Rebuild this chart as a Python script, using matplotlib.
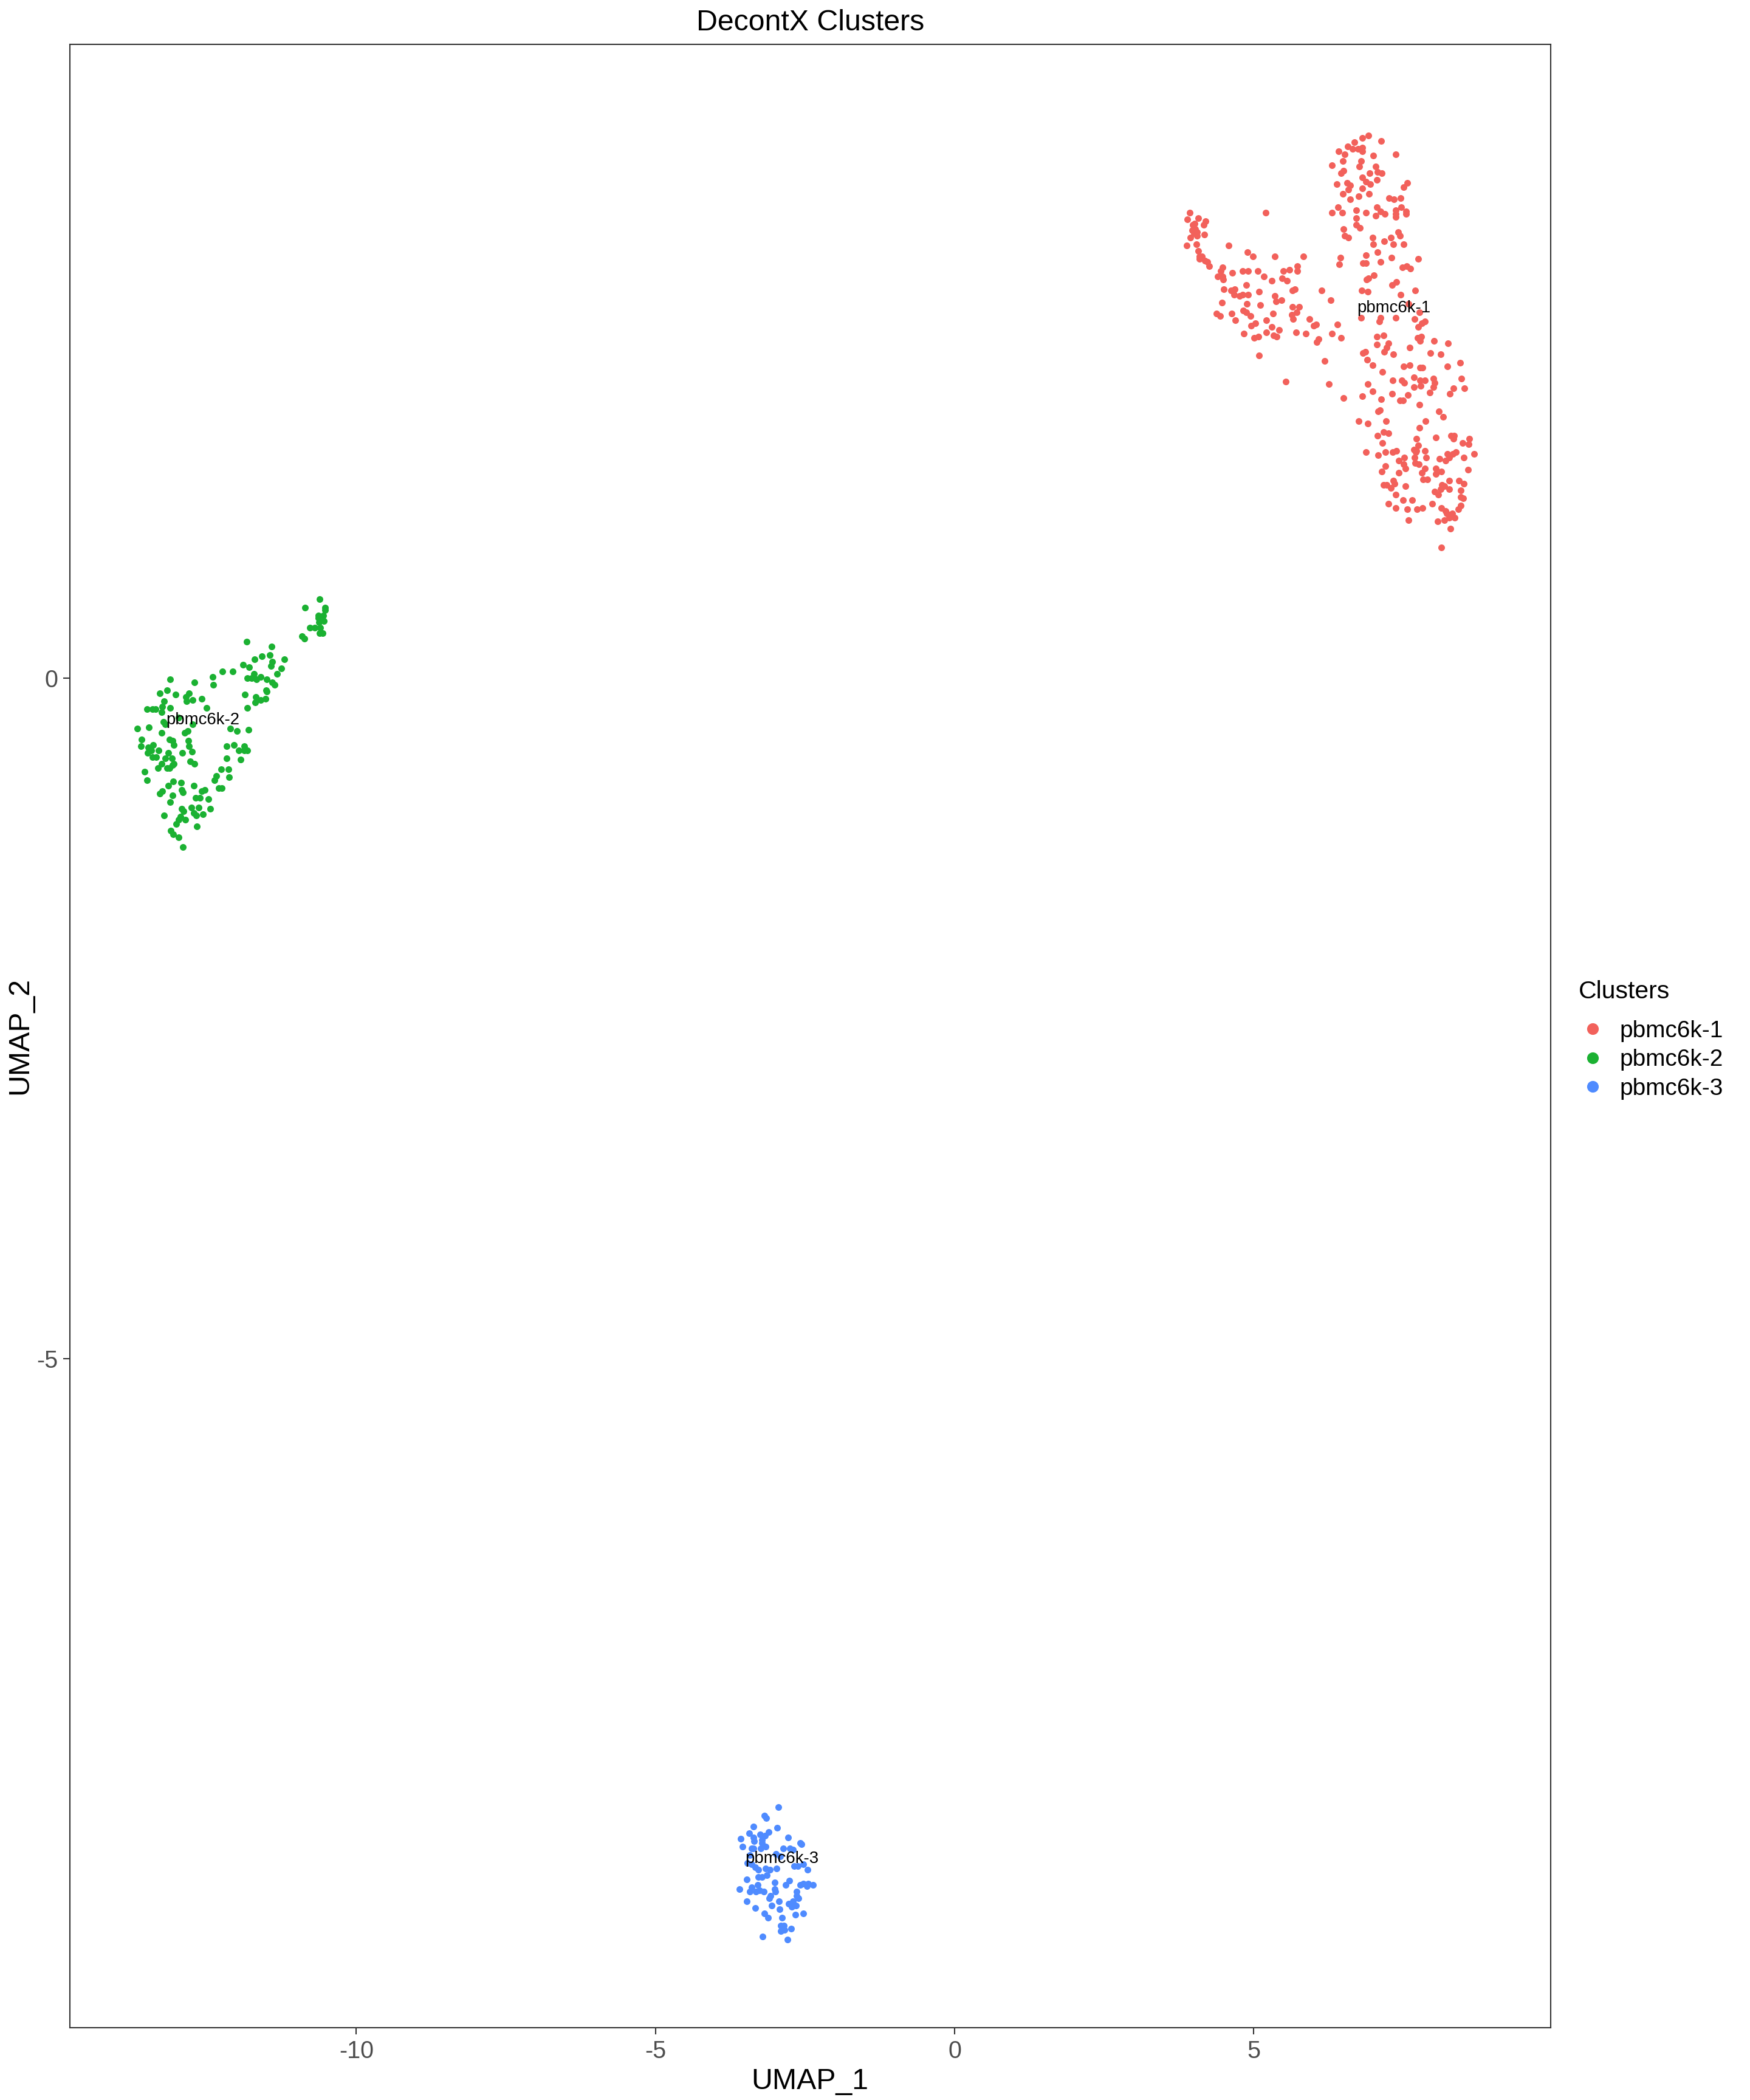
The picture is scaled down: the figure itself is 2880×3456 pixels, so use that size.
import matplotlib.pyplot as plt
from matplotlib.lines import Line2D

plt.rcParams['font.family'] = ['Liberation Sans', 'DejaVu Sans']

# cluster names and colours
clusters = ['pbmc6k-1', 'pbmc6k-2', 'pbmc6k-3']
colors = ['#F2615B', '#1BB132', '#4F8BFF']

# UMAP coordinates
red_x = [6.92, 6.82, 7.13, 6.68, 6.57, 6.65, 6.74, 6.82, 6.82, 6.42, 6.52, 7.37, 7.00, 6.49, 6.79,
         6.31, 6.76, 7.04, 6.50, 6.46, 7.07, 7.14, 6.94, 6.81, 6.88, 6.95, 7.06, 6.39, 6.56, 6.61,
         6.58, 6.81, 7.57, 7.51, 6.49, 6.75, 6.93, 6.61, 7.26, 7.34, 7.45, 6.41, 6.31, 6.48, 6.71,
         6.88, 7.06, 7.12, 7.19, 7.04, 7.37, 7.37, 7.37, 7.47, 7.55, 7.55, 6.71, 6.50, 6.71, 6.77,
         6.52, 6.58, 6.99, 7.29, 7.41, 7.44, 7.00, 7.18, 7.33, 7.51, 6.88, 7.07, 6.45, 6.43, 6.83,
         6.88, 7.12, 7.30, 7.75, 7.49, 7.56, 7.62, 7.01, 6.89, 6.92, 7.31, 7.38, 7.70, 6.80, 6.91,
         7.45, 6.29, 6.13, 6.79, 7.12, 7.10, 7.37, 7.69, 7.77, 7.86, 7.81, 7.75, 7.59, 6.40, 6.31,
         6.46, 7.06, 7.17, 7.74, 7.80, 8.01,
         3.93, 3.89, 4.07, 4.19, 3.98, 4.01, 4.16, 3.97, 4.02, 4.05, 4.00, 4.05, 4.17, 3.94, 3.88,
         4.04, 4.58, 5.20, 4.07, 4.09, 4.13, 4.09, 4.18, 4.23, 4.26, 4.48, 4.45, 4.40, 4.48, 4.49,
         4.64, 4.81, 4.91, 5.07, 4.90, 4.99, 5.35, 5.83, 5.73, 5.73, 5.60, 5.49, 5.17, 5.30, 5.47,
         5.56, 4.88, 4.50, 4.62, 4.68, 4.67, 4.76, 4.81, 4.91, 5.09, 5.35, 5.37, 5.46, 5.65, 5.69,
         4.47, 4.89, 5.11, 5.65, 5.76, 4.38, 4.44, 4.63, 4.82, 4.88, 4.95, 4.69, 5.21, 5.32, 5.64,
         5.72, 5.66, 5.93, 4.96, 5.03, 5.30, 5.42, 4.83, 5.21, 5.33, 5.38, 5.01, 5.08, 5.71, 5.87,
         6.00, 6.04, 6.08,
         6.05, 7.78, 8.25, 7.25, 7.22, 7.06, 7.61, 7.18, 6.83, 6.87, 7.33, 7.95, 8.13, 5.09, 6.19,
         6.90, 6.99, 7.51, 7.61, 7.78, 7.82, 8.24, 8.45, 7.15, 7.68, 7.32, 7.48, 7.52, 7.78, 7.86,
         8.00, 8.02, 8.00, 8.47, 5.54, 6.26, 6.91, 6.99, 7.68, 7.79, 7.94, 8.34, 8.52, 8.28, 6.50,
         6.81, 7.31, 7.58, 7.13, 7.44, 7.50, 7.77, 7.08, 7.11, 8.09, 8.17, 6.75, 6.91, 7.21, 7.87,
         7.77, 7.17, 7.25, 7.07, 8.04, 8.30, 8.35, 8.34, 8.60, 7.15, 7.72, 7.75, 8.49, 8.59, 6.88,
         7.08, 7.20, 7.32, 7.38, 7.68, 7.72, 7.71, 7.86, 8.24, 8.33, 8.38, 8.27, 8.68, 8.51, 7.42,
         7.52, 7.69, 7.88, 8.10, 8.21, 7.51, 7.54, 7.70, 7.76, 7.20, 7.14, 7.42, 7.86, 7.81, 8.04,
         8.04, 8.14, 8.58, 7.83, 7.90, 7.33, 7.35, 7.17, 7.22, 7.29, 7.54, 8.27, 8.43, 8.51, 8.15,
         8.19, 8.13, 8.02, 8.08, 8.27, 8.46, 7.37, 7.50, 7.65, 8.46, 8.50, 7.25, 7.37, 7.57, 7.73,
         7.82, 7.98, 8.14, 8.21, 8.23, 8.32, 8.46, 8.42, 8.27, 8.36, 8.19, 8.07, 7.59, 8.29, 8.14]
red_y = [3.99, 3.97, 3.95, 3.94, 3.91, 3.89, 3.89, 3.90, 3.87, 3.87, 3.85, 3.85, 3.84, 3.80, 3.80,
         3.77, 3.76, 3.76, 3.73, 3.71, 3.72, 3.71, 3.71, 3.68, 3.65, 3.63, 3.66, 3.63, 3.64, 3.62,
         3.59, 3.60, 3.64, 3.61, 3.56, 3.54, 3.56, 3.52, 3.53, 3.52, 3.53, 3.46, 3.42, 3.42, 3.44,
         3.42, 3.46, 3.43, 3.41, 3.40, 3.44, 3.41, 3.39, 3.46, 3.43, 3.41, 3.38, 3.30, 3.33, 3.31,
         3.25, 3.24, 3.24, 3.24, 3.28, 3.25, 3.19, 3.21, 3.19, 3.19, 3.11, 3.13, 3.09, 3.04, 3.05,
         3.05, 3.06, 3.09, 3.08, 3.02, 3.03, 3.01, 2.96, 2.93, 2.94, 2.89, 2.91, 2.85, 2.85, 2.84,
         2.82, 2.78, 2.85, 2.65, 2.65, 2.62, 2.65, 2.64, 2.69, 2.62, 2.61, 2.58, 2.75, 2.60, 2.53,
         2.50, 2.51, 2.52, 2.50, 2.51, 2.48,
         3.42, 3.37, 3.38, 3.36, 3.33, 3.34, 3.33, 3.29, 3.30, 3.28, 3.27, 3.25, 3.26, 3.24, 3.18,
         3.19, 3.18, 3.42, 3.14, 3.10, 3.10, 3.08, 3.07, 3.06, 3.03, 3.02, 2.99, 2.95, 2.95, 2.93,
         2.98, 2.99, 2.99, 2.99, 3.13, 3.10, 3.10, 3.10, 3.03, 2.99, 3.00, 2.99, 2.95, 2.92, 2.94,
         2.92, 2.89, 2.86, 2.85, 2.86, 2.82, 2.81, 2.82, 2.82, 2.84, 2.81, 2.77, 2.78, 2.85, 2.86,
         2.76, 2.75, 2.74, 2.73, 2.73, 2.68, 2.66, 2.68, 2.70, 2.69, 2.66, 2.63, 2.63, 2.68, 2.67,
         2.69, 2.64, 2.64, 2.59, 2.61, 2.58, 2.56, 2.53, 2.54, 2.52, 2.51, 2.50, 2.51, 2.54, 2.53,
         2.59, 2.60, 2.49,
         2.47, 2.48, 2.46, 2.46, 2.43, 2.45, 2.43, 2.40, 2.39, 2.40, 2.38, 2.39, 2.38, 2.37, 2.33,
         2.34, 2.30, 2.29, 2.30, 2.28, 2.28, 2.29, 2.32, 2.25, 2.21, 2.19, 2.19, 2.17, 2.19, 2.19,
         2.20, 2.17, 2.14, 2.20, 2.18, 2.16, 2.16, 2.11, 2.14, 2.15, 2.10, 2.13, 2.13, 2.09, 2.06,
         2.07, 2.09, 2.08, 2.05, 2.04, 2.04, 2.01, 1.96, 1.97, 1.96, 1.92, 1.89, 1.87, 1.89, 1.89,
         1.84, 1.81, 1.80, 1.78, 1.77, 1.78, 1.78, 1.76, 1.76, 1.73, 1.76, 1.71, 1.73, 1.72, 1.66,
         1.64, 1.66, 1.66, 1.67, 1.68, 1.67, 1.66, 1.67, 1.65, 1.65, 1.66, 1.62, 1.65, 1.62, 1.60,
         1.62, 1.62, 1.62, 1.61, 1.60, 1.57, 1.54, 1.58, 1.57, 1.56, 1.52, 1.51, 1.54, 1.51, 1.54,
         1.50, 1.52, 1.53, 1.46, 1.46, 1.45, 1.43, 1.42, 1.42, 1.40, 1.41, 1.45, 1.45, 1.43, 1.42,
         1.41, 1.39, 1.37, 1.35, 1.39, 1.38, 1.35, 1.31, 1.31, 1.33, 1.32, 1.28, 1.25, 1.24, 1.24,
         1.25, 1.28, 1.25, 1.23, 1.21, 1.21, 1.27, 1.24, 1.18, 1.18, 1.16, 1.15, 1.16, 1.10, 0.96]

green_x = [-10.61, -10.86, -10.52, -10.52, -10.63, -10.55, -10.63, -10.54, -10.62, -10.77, -10.69,
           -10.60, -10.61, -10.56, -10.91, -10.87, -11.83, -11.41, -11.45, -11.58, -11.70, -11.20,
           -11.40, -11.42, -11.89, -11.79, -11.25, -11.32, -12.06, -12.24, -12.40, -12.39, -11.71,
           -11.82, -11.75, -11.67, -11.60, -11.50, -11.40, -11.36, -11.51, -11.50, -11.86, -11.68,
           -11.69, -11.60, -11.52, -11.82, -13.11, -12.70, -13.28, -13.16, -13.02, -12.80, -12.85,
           -12.84, -12.73, -12.58, -12.50, -13.21, -13.24, -13.50, -13.40, -13.35, -13.25, -13.11,
           -13.47, -13.66, -13.25, -13.22, -12.10, -11.99, -11.80, -12.87, -12.82, -13.12, -13.07,
           -13.05, -12.81, -12.80, -13.59, -13.60, -13.39, -13.48, -13.49, -13.43, -13.30, -13.14,
           -13.19, -13.08, -12.91, -12.74, -13.40, -13.34, -13.05, -13.07, -13.12, -13.16, -13.25,
           -13.31, -12.78, -12.70, -12.17, -12.04, -11.96, -11.87, -11.87, -11.82, -12.17, -11.93,
           -13.54, -13.50, -12.26, -12.14, -12.34, -12.37, -12.13, -13.06, -13.14, -12.93, -12.71,
           -12.92, -12.90, -13.28, -13.24, -13.07, -13.11, -12.68, -12.61, -12.47, -12.58, -12.53,
           -12.30, -12.25, -12.75, -12.63, -12.44, -12.92, -12.89, -12.71, -12.67, -12.56, -13.21,
           -12.94, -12.97, -12.86, -13.01, -12.66, -13.10, -13.06, -12.97, -12.90, -13.19, -12.97,
           -12.73]
green_y = [0.58, 0.52, 0.52, 0.50, 0.46, 0.46, 0.44, 0.42, 0.41, 0.37, 0.37, 0.37, 0.33, 0.33,
           0.31, 0.29, 0.27, 0.23, 0.17, 0.16, 0.14, 0.14, 0.12, 0.09, 0.10, 0.08, 0.07, 0.03, 0.05,
           0.05, 0.01, -0.05, 0.03, 0.00, 0.00, -0.01, 0.01, -0.01, -0.03, -0.05, -0.09, -0.10,
           -0.12, -0.14, -0.18, -0.16, -0.15, -0.22, -0.01, -0.03, -0.11, -0.09, -0.12, -0.11,
           -0.14, -0.17, -0.16, -0.15, -0.22, -0.17, -0.21, -0.23, -0.23, -0.23, -0.25, -0.22,
           -0.36, -0.37, -0.40, -0.32, -0.37, -0.39, -0.38, -0.40, -0.39, -0.45, -0.46, -0.49,
           -0.46, -0.50, -0.45, -0.50, -0.49, -0.51, -0.55, -0.53, -0.53, -0.55, -0.59, -0.59,
           -0.55, -0.54, -0.58, -0.58, -0.63, -0.64, -0.66, -0.66, -0.63, -0.66, -0.61, -0.63,
           -0.50, -0.49, -0.53, -0.50, -0.53, -0.53, -0.59, -0.60, -0.69, -0.75, -0.67, -0.67,
           -0.72, -0.75, -0.73, -0.76, -0.79, -0.77, -0.79, -0.82, -0.84, -0.85, -0.83, -0.86,
           -0.91, -0.88, -0.88, -0.89, -0.83, -0.82, -0.81, -0.81, -0.95, -0.95, -0.96, -0.96,
           -0.98, -0.99, -1.01, -1.00, -1.01, -1.02, -1.04, -1.04, -1.07, -1.09, -1.12, -1.15,
           -1.17, -1.24, -0.34, -0.29, -0.34]

blue_x = [-2.94, -3.18, -3.15, -3.36, -2.97, -3.43, -3.11, -3.25, -3.17, -3.57, -3.36, -3.35, -3.22,
          -3.22, -2.78, -2.58, -2.56, -3.54, -3.39, -3.36, -3.24, -3.16, -2.86, -2.75, -2.70, -3.42,
          -2.99, -2.91, -3.46, -3.39, -3.33, -3.28, -3.16, -3.09, -2.98, -2.68, -2.62, -2.53, -2.46,
          -3.28, -3.22, -3.14, -3.47, -3.01, -2.76, -2.82, -3.29, -3.39, -3.59, -3.42, -3.32, -3.26,
          -3.19, -3.01, -3.00, -2.58, -2.53, -2.45, -2.47, -2.37, -2.64, -3.08, -3.10, -2.64, -2.61,
          -3.47, -2.93, -3.06, -2.77, -2.70, -2.72, -2.65, -3.33, -2.92, -3.18, -3.12, -2.66, -2.53,
          -2.88, -2.90, -2.85, -2.90, -2.84, -2.73, -3.21, -2.79]
blue_y = [-8.30, -8.36, -8.38, -8.44, -8.45, -8.49, -8.48, -8.50, -8.51, -8.53, -8.52, -8.55, -8.54,
          -8.56, -8.52, -8.56, -8.57, -8.59, -8.60, -8.60, -8.60, -8.59, -8.60, -8.60, -8.61, -8.65,
          -8.64, -8.66, -8.71, -8.72, -8.74, -8.76, -8.75, -8.76, -8.75, -8.73, -8.73, -8.72, -8.76,
          -8.81, -8.81, -8.80, -8.83, -8.85, -8.84, -8.87, -8.87, -8.89, -8.90, -8.92, -8.92, -8.91,
          -8.92, -8.90, -8.92, -8.87, -8.86, -8.86, -8.88, -8.87, -8.92, -8.95, -8.97, -8.95, -8.97,
          -8.99, -8.99, -9.02, -9.01, -8.99, -9.03, -9.02, -9.04, -9.05, -9.08, -9.11, -9.09, -9.08,
          -9.11, -9.17, -9.17, -9.21, -9.20, -9.19, -9.25, -9.27]

# cluster label positions (centre of each cluster)
label_x = [7.34, -12.57, -2.89]
label_y = [2.72, -0.31, -8.68]

fig = plt.figure(figsize=(9.6, 11.52), dpi=300)
ax = fig.add_axes([0.0398, 0.0344, 0.8462, 0.9446])

pts = [(red_x, red_y), (green_x, green_y), (blue_x, blue_y)]
for (xs, ys), col in zip(pts, colors):
    ax.scatter(xs, ys, s=7, color=col, linewidths=0, zorder=2)

for name, lx, ly in zip(clusters, label_x, label_y):
    ax.text(lx, ly, name, fontsize=6.6, ha='center', va='center', color='black', zorder=3)

ax.set_xlim(-14.79, 9.96)
ax.set_ylim(-9.92, 4.66)
ax.set_xticks([-10, -5, 0, 5])
ax.set_xticklabels(['-10', '-5', '0', '5'])
ax.set_yticks([-5, 0])
ax.set_yticklabels(['-5', '0'])
ax.tick_params(length=2.7, width=0.5, color='#333333', labelsize=9.5, labelcolor='#4D4D4D', pad=2)
for sp in ax.spines.values():
    sp.set_linewidth(0.5)
    sp.set_color('#333333')

ax.set_title('DecontX Clusters', fontsize=11.6, pad=5.5)
ax.set_xlabel('UMAP_1', fontsize=11.6, labelpad=2)
ax.set_ylabel('UMAP_2', fontsize=11.6, labelpad=1)

# legend: title as separate text, entries below it
fig.text(0.902, 0.5247, 'Clusters', fontsize=9.8, va='baseline', ha='left')
handles = [Line2D([], [], marker='o', linestyle='', markersize=3.6, color=c) for c in colors]
fig.legend(handles, clusters, loc='upper left', bbox_to_anchor=(0.9032, 0.5143),
           frameon=False, fontsize=9.3, borderpad=0, borderaxespad=0,
           handletextpad=0.67, labelspacing=0.3, handlelength=1.0)

fig.savefig('out.png', dpi=300)
